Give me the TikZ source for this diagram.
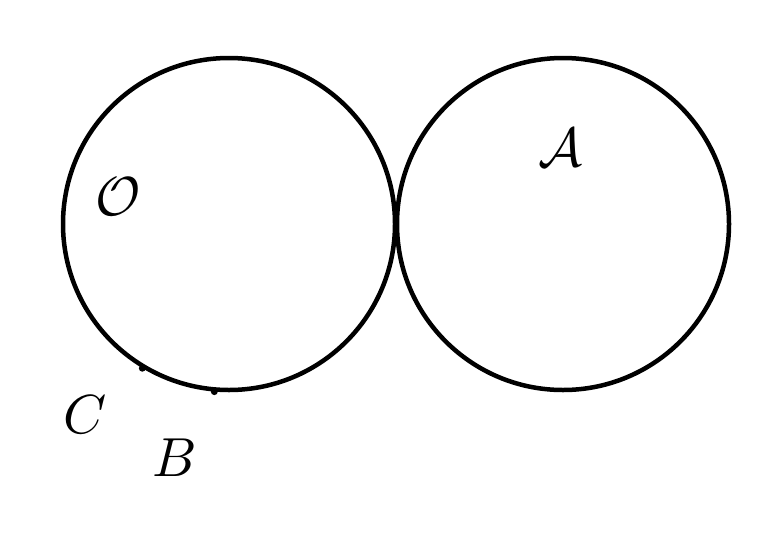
\documentclass[tikz,border=0pt]{standalone}
\begin{document}
\begin{tikzpicture}[x=1pt,y=-1pt,
  circ/.style={draw,line width=4.5pt},
  lbl/.style={inner sep=0pt,scale=5.5}]
\useasboundingbox (0,0) rectangle (775,541);
\node[circ,circle,minimum size=332pt,inner sep=0pt] (O) at (229,224) {};
\node[circ,circle,minimum size=332pt,inner sep=0pt] (A) at (563,224) {};
\node[lbl] (lo) at (118,197) {$\mathcal{O}$};
\node[lbl] (la) at (560,148) {$\mathcal{A}$};
\node[lbl] (lc) at (85,415) {$C$};
\node[lbl] (lb) at (175,458) {$B$};
\fill (O.{239}) circle (3.5pt);
\fill (O.{265}) circle (3.5pt);
\end{tikzpicture}
\end{document}
